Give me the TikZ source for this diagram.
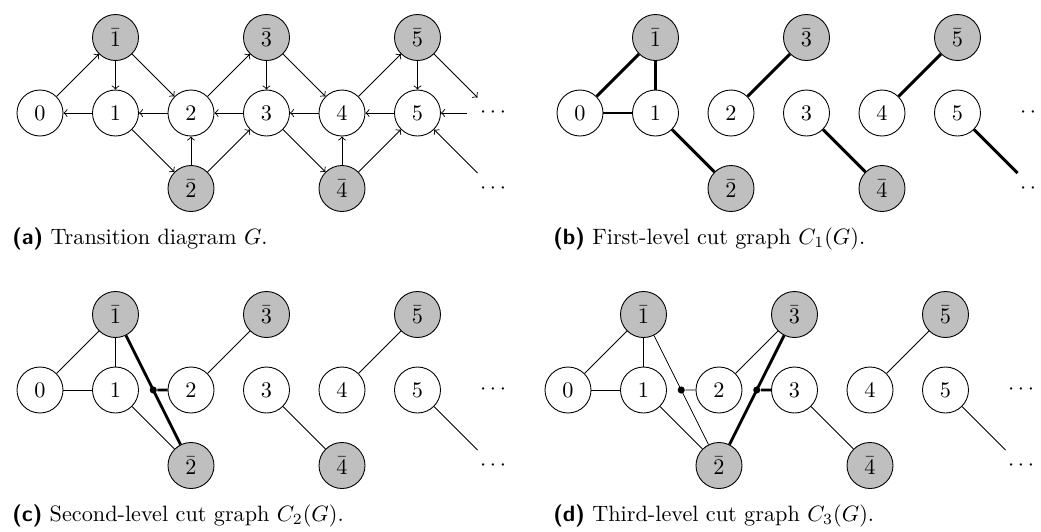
\documentclass[tikz,border=0pt]{standalone}
\usetikzlibrary{calc}
\newcommand\placenodes[3]{%
  \foreach \i in {0,...,5} \node[wnode] (#1\i) at ({#2+40+75.5*\i},{#3+113}) {$\i$};
  \foreach \i in {1,3,5} \node[gnode] (#1b\i) at ({#2+40+75.5*\i},{#3+37.5}) {$\bar{\i}$};
  \foreach \i in {2,4} \node[gnode] (#1b\i) at ({#2+40+75.5*\i},{#3+188.5}) {$\bar{\i}$};
  \node[dotsnode] (#1du) at ({#2+493},{#3+113}) {$\cdots$};
  \node[dotsnode] (#1dl) at ({#2+493},{#3+188.5}) {$\cdots$};
}
\begin{document}
\begin{tikzpicture}[x=0.45pt,y=-0.45pt,
  wnode/.style={circle,draw,line width=0.4pt,minimum size=20.7pt,inner sep=0pt,fill=white},
  gnode/.style={wnode,fill=gray!50},
  dotsnode/.style={inner sep=0pt},
  arr/.style={->,line width=0.4pt},
  tedge/.style={line width=0.4pt},
  kedge/.style={line width=1.3pt},
  dotnode/.style={circle,fill,inner sep=0pt,minimum size=3.2pt},
  captext/.style={anchor=base west,inner sep=0pt}]
\useasboundingbox (0,0) rectangle (1041,531);

% ---------- (a) ----------
\placenodes{a}{0}{0}
\coordinate (aeu) at ($(ab5)+(60,60)$);
\coordinate (aer) at ($(a5)+(49.5,0)$);
\coordinate (ael) at ($(a5)+(60,60)$);
\draw[arr] (a0) -- (ab1);
\draw[arr] (ab1) -- (a1);
\draw[arr] (ab1) -- (a2);
\draw[arr] (a1) -- (a0);
\draw[arr] (a2) -- (a1);
\draw[arr] (a1) -- (ab2);
\draw[arr] (ab2) -- (a2);
\draw[arr] (ab2) -- (a3);
\draw[arr] (a2) -- (ab3);
\draw[arr] (ab3) -- (a3);
\draw[arr] (ab3) -- (a4);
\draw[arr] (a3) -- (a2);
\draw[arr] (a3) -- (ab4);
\draw[arr] (ab4) -- (a4);
\draw[arr] (ab4) -- (a5);
\draw[arr] (a4) -- (a3);
\draw[arr] (a4) -- (ab5);
\draw[arr] (ab5) -- (a5);
\draw[arr] (ab5) -- (aeu);
\draw[arr] (a5) -- (a4);
\draw[arr] (aer) -- (a5);
\draw[arr] (ael) -- (a5);
\node[captext] (capa) at (12,244) {\textsf{\textbf{(a)}} Transition diagram $G$.};

% ---------- (b) ----------
\placenodes{b}{540}{0}
\coordinate (bel) at ($(b5)+(60,60)$);
\draw[kedge] (b0) -- (bb1);
\draw[kedge] (bb1) -- (b1);
\draw[kedge] (b0) -- (b1);
\draw[kedge] (b1) -- (bb2);
\draw[kedge] (b2) -- (bb3);
\draw[kedge] (b3) -- (bb4);
\draw[kedge] (b4) -- (bb5);
\draw[kedge] (b5) -- (bel);
\node[captext] (capb) at (553,244) {\textsf{\textbf{(b)}} First-level cut graph $C_1(G)$.};

% ---------- (c) ----------
\placenodes{c}{0}{277}
\coordinate (cel) at ($(c5)+(60,60)$);
\draw[tedge] (c0) -- (cb1);
\draw[tedge] (cb1) -- (c1);
\draw[tedge] (c0) -- (c1);
\draw[tedge] (c1) -- (cb2);
\draw[tedge] (c2) -- (cb3);
\draw[tedge] (c3) -- (cb4);
\draw[tedge] (c4) -- (cb5);
\draw[tedge] (c5) -- (cel);
\draw[kedge] (cb1) -- (cb2);
\node[dotnode] (cm) at ($(cb1)!0.5!(cb2)$) {};
\draw[kedge] (cm) -- (c2);
\node[captext] (capc) at (12,521) {\textsf{\textbf{(c)}} Second-level cut graph $C_2(G)$.};

% ---------- (d) ----------
\placenodes{d}{528}{277}
\coordinate (del) at ($(d5)+(60,60)$);
\draw[tedge] (d0) -- (db1);
\draw[tedge] (db1) -- (d1);
\draw[tedge] (d0) -- (d1);
\draw[tedge] (d1) -- (db2);
\draw[tedge] (db1) -- (db2);
\node[dotnode] (dm1) at ($(db1)!0.5!(db2)$) {};
\draw[tedge] (dm1) -- (d2);
\draw[tedge] (d2) -- (db3);
\draw[kedge] (db2) -- (db3);
\node[dotnode] (dm2) at ($(db2)!0.5!(db3)$) {};
\draw[kedge] (dm2) -- (d3);
\draw[tedge] (d3) -- (db4);
\draw[tedge] (d4) -- (db5);
\draw[tedge] (d5) -- (del);
\node[captext] (capd) at (553,521) {\textsf{\textbf{(d)}} Third-level cut graph $C_3(G)$.};
\end{tikzpicture}
\end{document}
